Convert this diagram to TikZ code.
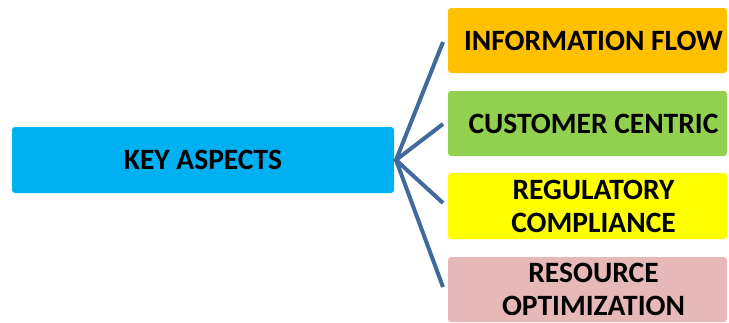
\documentclass[tikz,border=0pt]{standalone}
\usepackage{fontspec}
\setmainfont{Carlito}
\definecolor{hubblue}{HTML}{00B0F0}
\definecolor{flowcol}{HTML}{FFC000}
\definecolor{custcol}{HTML}{92D050}
\definecolor{regcol}{HTML}{FFFF00}
\definecolor{rescol}{HTML}{E6B8B7}
\definecolor{linkcol}{HTML}{41699D}
\begin{document}
\begin{tikzpicture}[x=1pt,y=-1pt,
  boxtext/.style={inner sep=0pt, align=center,
    font=\fontsize{29.5}{33}\selectfont\bfseries, text=black},
  box/.style={rounded corners=3pt, inner sep=0pt, boxtext},
  aspect/.style={box, minimum width=279pt, minimum height=65pt},
  link/.style={draw=linkcol, line width=4pt}]
\useasboundingbox (0,0) rectangle (729,322);
% central box
\node[box, fill=hubblue, minimum width=382pt, minimum height=66pt] (key) at (203,160) {KEY ASPECTS};
% aspect boxes, their labels set a little right of centre
\node[aspect, fill=flowcol, label={[boxtext, xshift=6pt]center:INFORMATION FLOW}] (flow) at (587.5,40.5) {};
\node[aspect, fill=custcol, label={[boxtext, xshift=6pt]center:CUSTOMER CENTRIC}] (cust) at (587.5,123.5) {};
\node[aspect, fill=regcol, minimum height=66pt, label={[boxtext, xshift=6pt]center:REGULATORY\\COMPLIANCE}] (reg) at (587.5,206) {};
\node[aspect, fill=rescol, label={[boxtext, xshift=6pt]center:RESOURCE\\OPTIMIZATION}] (res) at (587.5,289.5) {};
% connectors from the hub
\coordinate (hub) at (396,160);
\coordinate (e1) at (443,42);
\coordinate (e2) at (443,124);
\coordinate (e3) at (443,203);
\coordinate (e4) at (443,287);
\draw[link] (e1) -- (hub) -- (e4);
\draw[link] (e2) -- (hub) -- (e3);
\end{tikzpicture}
\end{document}
